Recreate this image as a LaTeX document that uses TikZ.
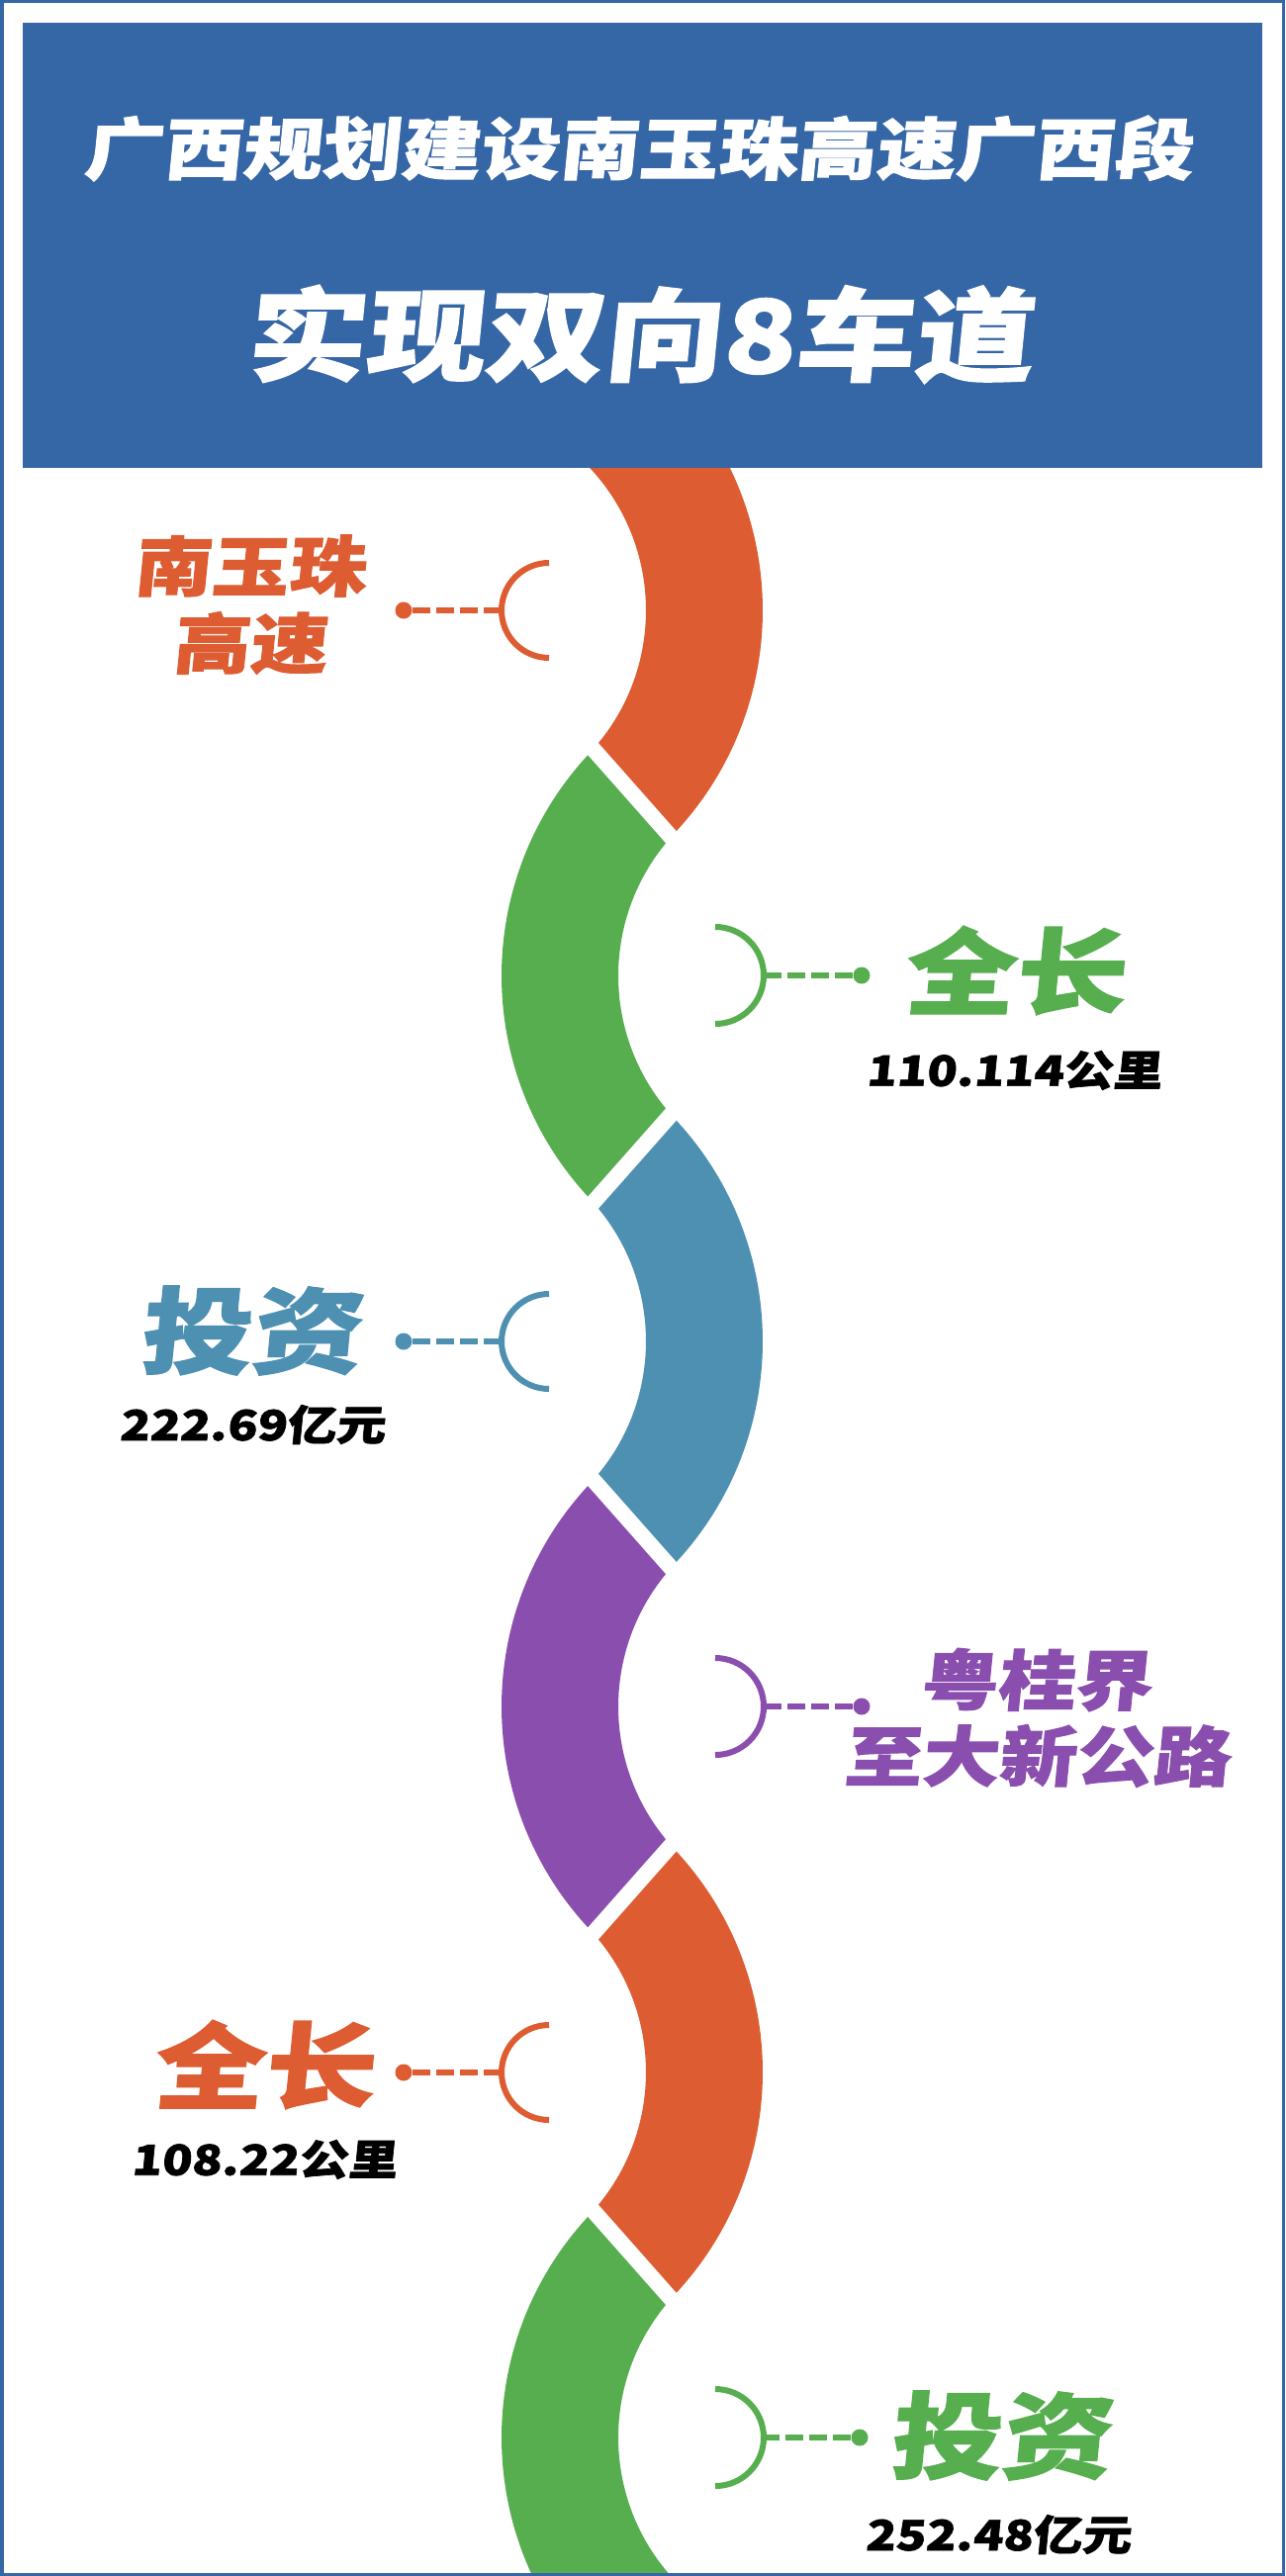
\documentclass[tikz,border=0pt]{standalone}
\usepackage{fontspec}
\usepackage{tikz}
\newfontfamily\cjk{Noto Sans CJK SC}[FakeStretch=1.18,FakeSlant=0.1,BoldFeatures={FakeBold=1.5}]
\definecolor{headblue}{HTML}{3566A6}
\definecolor{segorange}{HTML}{DD5C31}
\definecolor{seggreen}{HTML}{56AE4E}
\definecolor{segblue}{HTML}{4D90B1}
\definecolor{segpurple}{HTML}{8A4EAF}
\tikzset{
  titletext/.style={font=\cjk\bfseries\fontsize{19.3}{23}\selectfont, text=white, inner sep=0pt},
  bigtitle/.style={font=\cjk\bfseries\fontsize{29}{34}\selectfont, text=white, inner sep=0pt},
  namelabel/.style={font=\cjk\bfseries\fontsize{18.8}{22}\selectfont, inner sep=0pt},
  biglabel/.style={font=\cjk\bfseries\fontsize{27}{32}\selectfont, inner sep=0pt},
  numlabel/.style={font=\cjk\bfseries\fontsize{12}{14}\selectfont, text=black, inner sep=0pt},
  dot/.style={circle, inner sep=0pt, minimum size=0.17cm},
  bracket/.style={line width=0.06cm},
  link/.style={line width=0.065cm, dash pattern=on 0.18cm off 0.06cm},
  cut/.style={white, line width=0.16cm}
}
\begin{document}
\begin{tikzpicture}[x=0.01cm, y=-0.01cm]
        \useasboundingbox (0,0) rectangle (1299,2604);
        \clip (0,0) rectangle (1299,2604);
        \fill[white] (0,0) rectangle (1299,2604);
        \fill[segorange] (442,617) ++(-43.15:329) arc[start angle=-43.15, end angle=43.15, radius=329] -- ++(223.15:118) arc[start angle=43.15, end angle=-43.15, radius=211] -- cycle;
        \fill[seggreen] (836,986.4) ++(136.85:329) arc[start angle=136.85, end angle=223.15, radius=329] -- ++(43.15:118) arc[start angle=223.15, end angle=136.85, radius=211] -- cycle;
        \fill[segblue] (442,1355.8) ++(-43.15:329) arc[start angle=-43.15, end angle=43.15, radius=329] -- ++(223.15:118) arc[start angle=43.15, end angle=-43.15, radius=211] -- cycle;
        \fill[segpurple] (836,1725.2) ++(136.85:329) arc[start angle=136.85, end angle=223.15, radius=329] -- ++(43.15:118) arc[start angle=223.15, end angle=136.85, radius=211] -- cycle;
        \fill[segorange] (442,2094.6) ++(-43.15:329) arc[start angle=-43.15, end angle=43.15, radius=329] -- ++(223.15:118) arc[start angle=43.15, end angle=-43.15, radius=211] -- cycle;
        \fill[seggreen] (836,2464) ++(136.85:329) arc[start angle=136.85, end angle=223.15, radius=329] -- ++(43.15:118) arc[start angle=223.15, end angle=136.85, radius=211] -- cycle;
        \draw[cut] (639,801.7) ++(48.5:-75) -- ++(48.5:150);
        \draw[cut] (639,1171.1) ++(131.5:-75) -- ++(131.5:150);
        \draw[cut] (639,1540.5) ++(48.5:-75) -- ++(48.5:150);
        \draw[cut] (639,1909.9) ++(131.5:-75) -- ++(131.5:150);
        \draw[cut] (639,2279.3) ++(48.5:-75) -- ++(48.5:150);
        \fill[headblue] (23,23) rectangle (1276,473);
        \draw[headblue, line width=0.03cm] (2,2) rectangle (1297,2602);
        \node[titletext] (title) at (645,150) {广西规划建设南玉珠高速广西段};
        \node[bigtitle] (subtitle) at (646,338) {实现双向8车道};
        \draw[bracket, segorange] (555,569) arc[start angle=270, end angle=90, radius=48];
        \coordinate (b1) at (507,617);
        \node[dot, fill=segorange] (dot1) at (408,617) {};
        \draw[link, segorange] (dot1) -- (b1);
        \node[namelabel, text=segorange] (name1) at (252,572) {南玉珠};
        \node[namelabel, text=segorange] (name2) at (252,650) {高速};
        \draw[bracket, seggreen] (723,937) arc[start angle=270, end angle=450, radius=49];
        \coordinate (b2) at (772,986);
        \node[dot, fill=seggreen] (dot2) at (871,986) {};
        \draw[link, seggreen] (dot2) -- (b2);
        \node[biglabel, text=seggreen] (len1) at (1025,981) {全长};
        \node[numlabel] (len1val) at (1025,1082) {110.114公里};
        \draw[bracket, segblue] (555,1308) arc[start angle=270, end angle=90, radius=48];
        \coordinate (b3) at (507,1356);
        \node[dot, fill=segblue] (dot3) at (408,1356) {};
        \draw[link, segblue] (dot3) -- (b3);
        \node[biglabel, text=segblue] (inv1) at (253,1345) {投资};
        \node[numlabel] (inv1val) at (255,1440) {222.69亿元};
        \draw[bracket, segpurple] (723,1676) arc[start angle=270, end angle=450, radius=49];
        \coordinate (b4) at (772,1725);
        \node[dot, fill=segpurple] (dot4) at (871,1725) {};
        \draw[link, segpurple] (dot4) -- (b4);
        \node[namelabel, text=segpurple] (name3) at (1047,1698) {粤桂界};
        \node[namelabel, text=segpurple] (name4) at (1048,1775) {至大新公路};
        \draw[bracket, segorange] (555,2047) arc[start angle=270, end angle=90, radius=48];
        \coordinate (b5) at (507,2095);
        \node[dot, fill=segorange] (dot5) at (408,2095) {};
        \draw[link, segorange] (dot5) -- (b5);
        \node[biglabel, text=segorange] (len2) at (266,2087) {全长};
        \node[numlabel] (len2val) at (267,2183) {108.22公里};
        \draw[bracket, seggreen] (723,2415) arc[start angle=270, end angle=450, radius=49];
        \coordinate (b6) at (772,2464);
        \node[dot, fill=seggreen] (dot6) at (869,2464) {};
        \draw[link, seggreen] (dot6) -- (b6);
        \node[biglabel, text=seggreen] (inv2) at (1011,2462) {投资};
        \node[numlabel] (inv2val) at (1009,2562) {252.48亿元};
    \end{tikzpicture}
\end{document}
